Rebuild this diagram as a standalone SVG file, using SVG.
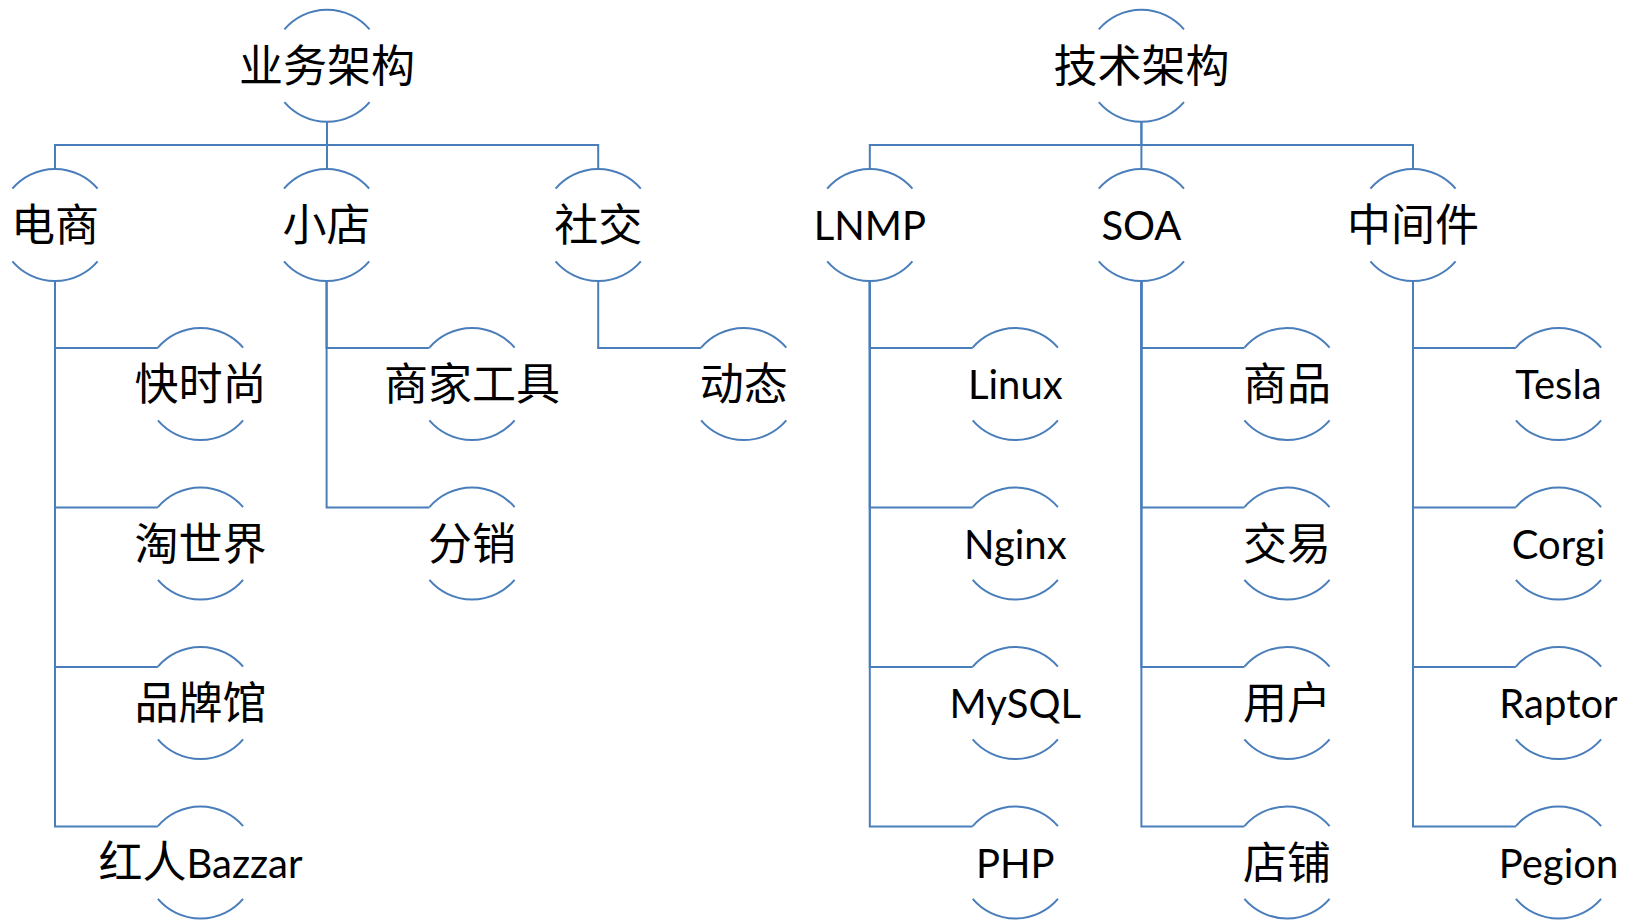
<svg xmlns="http://www.w3.org/2000/svg" width="1638" height="920" viewBox="0 0 1638 920">
<defs>
<style>
.arc{fill:none;stroke:#4a7ebb;stroke-width:2}
.con{fill:none;stroke:#4a7ebb;stroke-width:2}
.cjk{font-family:"Noto Sans CJK SC",sans-serif;font-size:44px;fill:#000;text-anchor:middle}
.lat{font-family:Lato,"Noto Sans CJK SC",sans-serif;font-size:40px;fill:#000;text-anchor:middle}
</style>
<g id="shape">
<path class="arc" d="M -42.6 -36.4 A 56 56 0 0 1 42.6 -36.4 M -42.6 36.4 A 56 56 0 0 0 42.6 36.4"/>
</g>
</defs>
<rect width="1638" height="920" fill="#fff"/>
<g id="connectors">
<path class="con" d="M327 122 V145 H55 V169"/>
<path class="con" d="M327 122 V169"/>
<path class="con" d="M327 145 H598.2 V169"/>
<path class="con" d="M1141.4 122 V145 H869.8 V169"/>
<path class="con" d="M1141.4 122 V169"/>
<path class="con" d="M1141.4 145 H1413 V169"/>
<path class="con" d="M55 281 V348 H157.9"/>
<path class="con" d="M55 281 V507.5 H157.9"/>
<path class="con" d="M55 281 V667 H157.9"/>
<path class="con" d="M55 281 V826.5 H157.9"/>
<path class="con" d="M326.6 281 V348 H429.4"/>
<path class="con" d="M326.6 281 V507.5 H429.4"/>
<path class="con" d="M598.2 281 V348 H701.1"/>
<path class="con" d="M869.8 281 V348 H972.7"/>
<path class="con" d="M869.8 281 V507.5 H972.7"/>
<path class="con" d="M869.8 281 V667 H972.7"/>
<path class="con" d="M869.8 281 V826.5 H972.7"/>
<path class="con" d="M1141.4 281 V348 H1244.4"/>
<path class="con" d="M1141.4 281 V507.5 H1244.4"/>
<path class="con" d="M1141.4 281 V667 H1244.4"/>
<path class="con" d="M1141.4 281 V826.5 H1244.4"/>
<path class="con" d="M1413 281 V348 H1515.9"/>
<path class="con" d="M1413 281 V507.5 H1515.9"/>
<path class="con" d="M1413 281 V667 H1515.9"/>
<path class="con" d="M1413 281 V826.5 H1515.9"/>
</g>
<g id="n-yewu" transform="translate(327,65.7)"><use href="#shape"/><text class="cjk" y="16">业务架构</text></g>
<g id="n-jishu" transform="translate(1141.4,65.7)"><use href="#shape"/><text class="cjk" y="16">技术架构</text></g>
<g id="n-dianshang" transform="translate(55,225)"><use href="#shape"/><text class="cjk" y="16">电商</text></g>
<g id="n-xiaodian" transform="translate(326.6,225)"><use href="#shape"/><text class="cjk" y="16">小店</text></g>
<g id="n-shejiao" transform="translate(598.2,225)"><use href="#shape"/><text class="cjk" y="16">社交</text></g>
<g id="n-lnmp" transform="translate(869.8,225)"><use href="#shape"/><text class="lat" y="15">LNMP</text></g>
<g id="n-soa" transform="translate(1141.4,225)"><use href="#shape"/><text class="lat" y="15">SOA</text></g>
<g id="n-zhongjianjian" transform="translate(1413,225)"><use href="#shape"/><text class="cjk" y="16">中间件</text></g>
<g id="n-kuaishishang" transform="translate(200.5,384)"><use href="#shape"/><text class="cjk" y="16">快时尚</text></g>
<g id="n-taoshijie" transform="translate(200.5,543.5)"><use href="#shape"/><text class="cjk" y="16">淘世界</text></g>
<g id="n-pinpaiguan" transform="translate(200.5,703)"><use href="#shape"/><text class="cjk" y="16">品牌馆</text></g>
<g id="n-hongren" transform="translate(200.5,862.5)"><use href="#shape"/><text class="lat" y="15"><tspan style="font-family:'Noto Sans CJK SC',sans-serif;font-size:44px">红人</tspan>Bazzar</text></g>
<g id="n-shangjia" transform="translate(472,384)"><use href="#shape"/><text class="cjk" y="16">商家工具</text></g>
<g id="n-fenxiao" transform="translate(472,543.5)"><use href="#shape"/><text class="cjk" y="16">分销</text></g>
<g id="n-dongtai" transform="translate(743.7,384)"><use href="#shape"/><text class="cjk" y="16">动态</text></g>
<g id="n-linux" transform="translate(1015.3,384)"><use href="#shape"/><text class="lat" y="15">Linux</text></g>
<g id="n-nginx" transform="translate(1015.3,543.5)"><use href="#shape"/><text class="lat" y="15">Nginx</text></g>
<g id="n-mysql" transform="translate(1015.3,703)"><use href="#shape"/><text class="lat" y="15">MySQL</text></g>
<g id="n-php" transform="translate(1015.3,862.5)"><use href="#shape"/><text class="lat" y="15">PHP</text></g>
<g id="n-shangpin" transform="translate(1287,384)"><use href="#shape"/><text class="cjk" y="16">商品</text></g>
<g id="n-jiaoyi" transform="translate(1287,543.5)"><use href="#shape"/><text class="cjk" y="16">交易</text></g>
<g id="n-yonghu" transform="translate(1287,703)"><use href="#shape"/><text class="cjk" y="16">用户</text></g>
<g id="n-dianpu" transform="translate(1287,862.5)"><use href="#shape"/><text class="cjk" y="16">店铺</text></g>
<g id="n-tesla" transform="translate(1558.5,384)"><use href="#shape"/><text class="lat" y="15">Tesla</text></g>
<g id="n-corgi" transform="translate(1558.5,543.5)"><use href="#shape"/><text class="lat" y="15">Corgi</text></g>
<g id="n-raptor" transform="translate(1558.5,703)"><use href="#shape"/><text class="lat" y="15">Raptor</text></g>
<g id="n-pegion" transform="translate(1558.5,862.5)"><use href="#shape"/><text class="lat" y="15">Pegion</text></g>
</svg>
